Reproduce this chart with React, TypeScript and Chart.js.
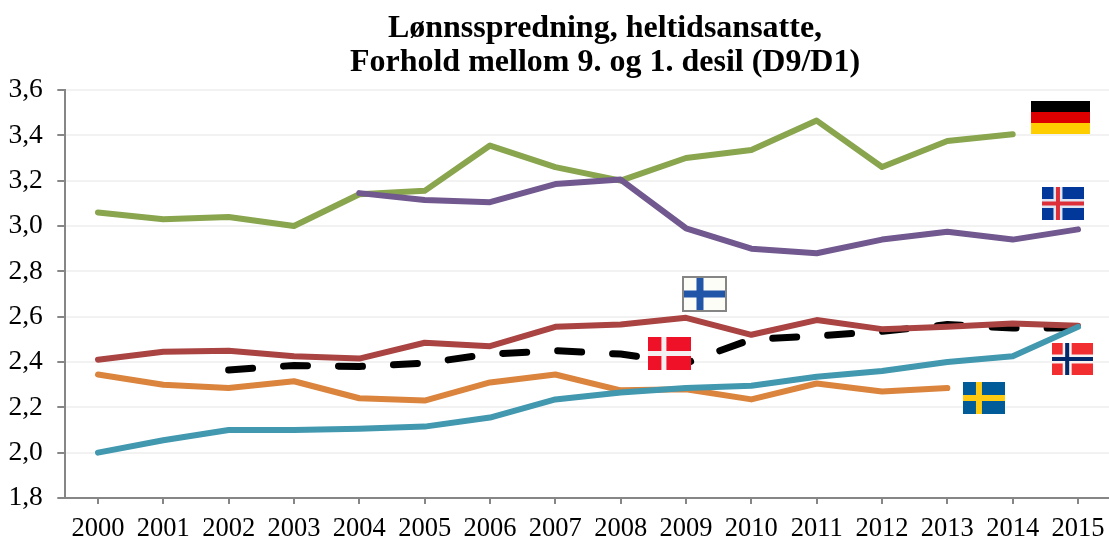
import React, { useEffect, useRef } from "react";
import { Chart, registerables } from "chart.js";

Chart.register(...registerables);

const years = ["2000","2001","2002","2003","2004","2005","2006","2007","2008","2009","2010","2011","2012","2013","2014","2015"];
const titleLines = ["Lønnsspredning, heltidsansatte,", "Forhold mellom 9. og 1. desil (D9/D1)"];
const germany = [3.06,3.03,3.04,3.0,3.14,3.155,3.355,3.26,3.2,3.3,3.335,3.465,3.26,3.375,3.405,null];
const iceland = [null,null,null,null,3.145,3.115,3.105,3.185,3.205,2.99,2.9,2.88,2.94,2.975,2.94,2.985];
const finland = [2.41,2.445,2.45,2.425,2.415,2.485,2.47,2.555,2.565,2.595,2.52,2.585,2.545,2.555,2.57,2.56];
const denmark = [null,null,2.365,2.385,2.38,2.395,2.435,2.45,2.435,2.395,2.5,2.515,2.535,2.565,2.55,2.55];
const sweden = [2.345,2.3,2.285,2.315,2.24,2.23,2.31,2.345,2.275,2.28,2.235,2.305,2.27,2.285,null,null];
const norway = [2.0,2.055,2.1,2.1,2.105,2.115,2.155,2.235,2.265,2.285,2.295,2.335,2.36,2.4,2.425,2.555];

type Ctx = CanvasRenderingContext2D;
const rect = (c: Ctx, color: string, x: number, y: number, w: number, h: number) => {
  c.fillStyle = color;
  c.fillRect(x, y, w, h);
};
const nordic = (c: Ctx, x: number, y: number, w: number, h: number, bg: string, cross: string, inner: string | null, cx: number, t: number, it: number) => {
  rect(c, bg, x, y, w, h);
  const mx = x + w * cx;
  const my = y + h / 2;
  rect(c, cross, mx - t / 2, y, t, h);
  rect(c, cross, x, my - t / 2, w, t);
  if (inner) {
    rect(c, inner, mx - it / 2, y, it, h);
    rect(c, inner, x, my - it / 2, w, it);
  }
};

const flagsPlugin = {
  id: "flags",
  afterLayout(chart: any) {
    // The reference title is centred a little right of the plot's middle.
    chart.titleBlock.left = 0;
    chart.titleBlock.right = 1210;
  },
  afterDatasetsDraw(chart: Chart) {
    const c = chart.ctx as Ctx;
    c.save();
    // Germany
    rect(c, "#000000", 1031, 101, 59, 11);
    rect(c, "#dd0000", 1031, 112, 59, 11);
    rect(c, "#ffce00", 1031, 123, 59, 11);
    // Iceland
    nordic(c, 1042, 187, 42, 33, "#02389a", "#dfe6f2", "#dc2f3a", 0.38, 9, 4);
    // Finland
    rect(c, "#858585", 682, 276, 45, 36);
    nordic(c, 684, 278, 41, 32, "#fdfdf8", "#2155a8", null, 0.39, 7, 0);
    // Denmark
    nordic(c, 648, 337, 43, 33, "#ee1127", "#f4eef0", null, 0.37, 5, 0);
    // Sweden
    nordic(c, 963, 382, 42, 32, "#005b99", "#fecb10", null, 0.38, 6, 0);
    // Norway
    nordic(c, 1052, 343, 41, 32, "#f22e30", "#f6f2f2", "#04296b", 0.37, 9, 4);
    c.restore();
  },
};

const line = (label: string, data: (number | null)[], color: string, extra: object = {}) => ({
  label,
  data,
  borderColor: color,
  backgroundColor: color,
  borderWidth: 6,
  pointRadius: 0,
  tension: 0,
  borderCapStyle: "round" as const,
  borderJoinStyle: "round" as const,
  spanGaps: false,
  ...extra,
});

export default function App() {
  const ref = useRef<HTMLCanvasElement>(null);
  useEffect(() => {
    const chart = new Chart(ref.current!, {
      type: "line",
      data: {
        labels: years,
        datasets: [
          line("Norge", norway, "#4198af", { order: 1 }),
          line("Finland", finland, "#a94442", { order: 2 }),
          line("Danmark", denmark, "#000000", { order: 3, borderDash: [24, 31], borderWidth: 7 }),
          line("Sverige", sweden, "#db843d", { order: 4 }),
          line("Island", iceland, "#71588f", { order: 5 }),
          line("Tyskland", germany, "#89a54e", { order: 6 }),
        ],
      },
      options: {
        responsive: false,
        animation: false,
        layout: { padding: { left: 0, right: 99.3, top: 0, bottom: 0 } },
        plugins: {
          legend: { display: false },
          tooltip: { enabled: false },
          title: {
            display: true,
            text: titleLines,
            color: "#000000",
            font: { family: "'Liberation Serif'", size: 32, weight: "bold", lineHeight: 1.0625 },
            padding: { top: 12, bottom: 10 },
          },
        },
        scales: {
          x: {
            type: "category",
            offset: true,
            afterFit(s: any) { s.height = 43; },
            grid: { offset: false, drawOnChartArea: false, drawTicks: true, tickLength: 6, color: "#868686", lineWidth: 2 },
            border: { color: "#868686", width: 2 },
            ticks: {
              color: "#000000",
              font: { family: "'Liberation Serif'", size: 26.5 },
              padding: 9,
              maxRotation: 0,
              autoSkip: false,
            },
          },
          y: {
            min: 1.8,
            max: 3.6,
            afterFit(s: any) { s.width = 65.3; },
            grid: { color: "#f2f2f2", lineWidth: 2, tickLength: 8, tickColor: "#868686", tickWidth: 2 } as any,
            border: { color: "#868686", width: 2 },
            ticks: {
              stepSize: 0.2,
              color: "#000000",
              font: { family: "'Liberation Serif'", size: 27.5 },
              padding: 14.5,
              callback: (v: any) => Number(v).toFixed(1).replace(".", ","),
            },
          },
        },
      },
      plugins: [flagsPlugin],
    } as any);
    return () => chart.destroy();
  }, []);
  return (
    <div style={{ position: "fixed", left: 0, top: 0, width: 1109, height: 541, overflow: "hidden", background: "#fff" }}>
      <canvas ref={ref} width={1210} height={541} style={{ display: "block" }} />
    </div>
  );
}
